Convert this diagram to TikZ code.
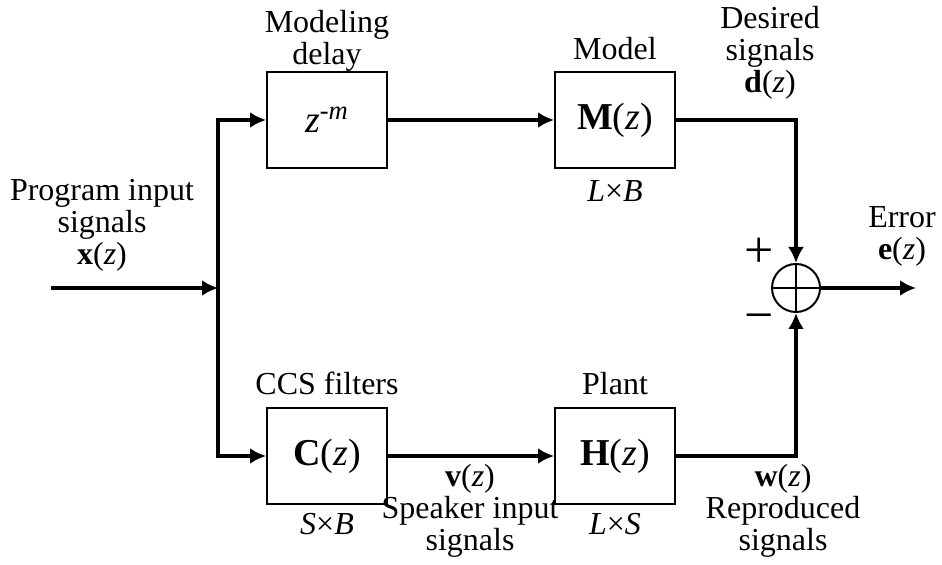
\documentclass[tikz,border=0pt]{standalone}
\usepackage{fontspec}
\setmainfont{Liberation Serif}
\usetikzlibrary{arrows.meta}

\begin{document}
\begin{tikzpicture}[x=0.5pt,y=-0.5pt,
  block/.style={draw, line width=1pt, minimum width=60pt, minimum height=48pt,
    font=\fontsize{19}{22}\selectfont},
  sig/.style={line width=2pt, -{Latex[length=8pt,width=8pt]}},
  lbl/.style={font=\fontsize{16}{16}\selectfont, align=center, inner sep=0pt},
  sgn/.style={font=\fontsize{26}{26}\selectfont, inner sep=0pt}]
  \useasboundingbox (0,0) rectangle (942,565);

  % blocks
  \node[block] (delay) at (327,120) {\textit{z}\textsuperscript{-\textit{m}}};
  \node[block] (model) at (615,120) {\textbf{M}(\textit{z})};
  \node[block] (ccs)   at (327,456) {\textbf{C}(\textit{z})};
  \node[block] (plant) at (615,456) {\textbf{H}(\textit{z})};
  \node[draw, circle, line width=1pt, minimum size=24pt, inner sep=0pt] (sum) at (796,288) {};
  \draw[line width=1pt] (sum.north) -- (sum.south) (sum.west) -- (sum.east);

  \coordinate (in) at (51,288);
  \coordinate (split) at (218,288);
  \coordinate (out) at (916,288);

  % signal paths
  \draw[sig] (in) -- (split);
  \draw[sig] (split) |- (delay);
  \draw[sig] (split) |- (ccs);
  \draw[sig] (delay) -- (model);
  \draw[sig] (model) -| (sum);
  \draw[sig] (ccs) -- (plant);
  \draw[sig] (plant) -| (sum);
  \draw[sig] (sum) -- (out);

  % labels (base = last line)
  \node[lbl, anchor=base] (delaylbl) at (327,65) {Modeling\\delay};
  \node[lbl, anchor=base] (modellbl) at (615,60) {Model};
  \node[lbl, anchor=base] (modeldim) at (615,202) {\textit{L}×\textit{B}};
  \node[lbl, anchor=base] (dlbl) at (770,93) {Desired\\signals\\\textbf{d}(\textit{z})};
  \node[lbl, anchor=base] (elbl) at (902,260) {Error\\\textbf{e}(\textit{z})};
  \node[lbl, anchor=base] (xlbl) at (102,265) {Program input\\signals\\\textbf{x}(\textit{z})};
  \node[lbl, anchor=base] (ccslbl) at (327,395) {CCS filters};
  \node[lbl, anchor=base] (plantlbl) at (615,395) {Plant};
  \node[lbl, anchor=base] (ccsdim) at (327,535) {\textit{S}×\textit{B}};
  \node[lbl, anchor=base] (plantdim) at (615,535) {\textit{L}×\textit{S}};
  \node[lbl, anchor=base] (vlbl) at (470,551) {\textbf{v}(\textit{z})\\Speaker input\\signals};
  \node[lbl, anchor=base] (wlbl) at (783,551) {\textbf{w}(\textit{z})\\Reproduced\\signals};
  \node[sgn] (plus) at (759,253) {+};
  \node[sgn] (minus) at (759,323) {−};
\end{tikzpicture}
\end{document}
